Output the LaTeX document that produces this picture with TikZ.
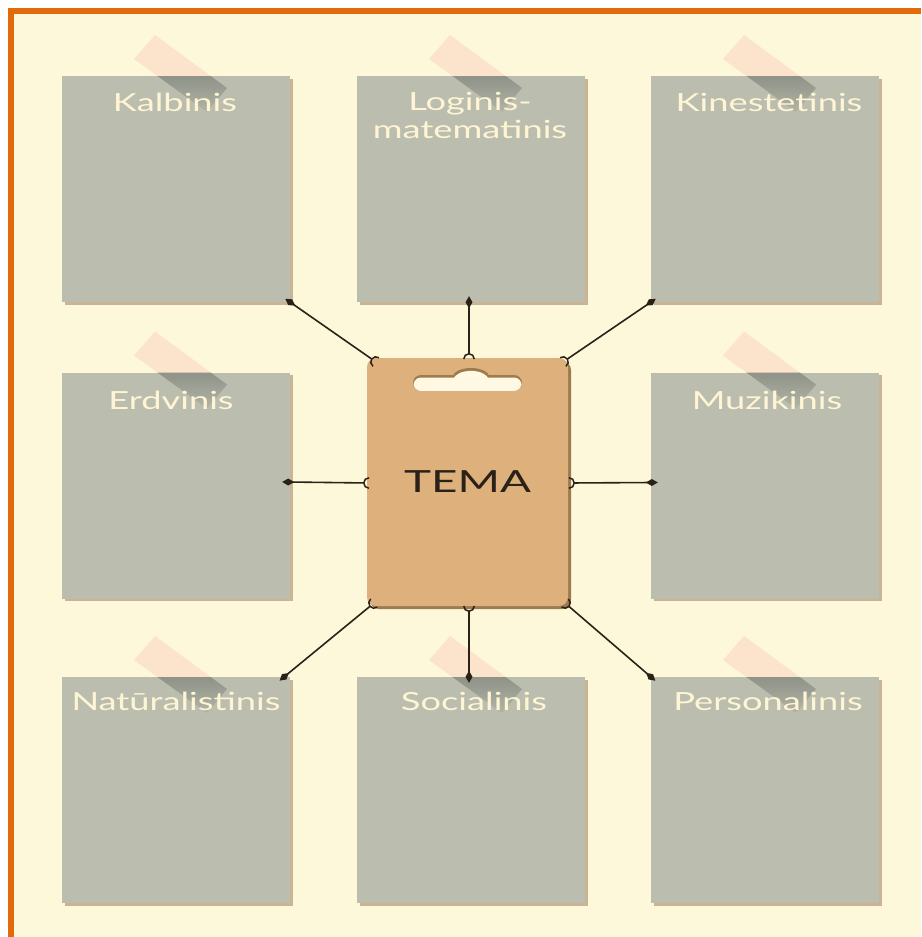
\documentclass[tikz,border=0pt]{standalone}
\usepackage{fontspec}
\usetikzlibrary{arrows.meta,shadows,fadings}
\newfontfamily\labfont[FakeStretch=1.45]{Lato}
\newfontfamily\temafont[FakeStretch=1.5]{Lato}
\definecolor{frameorange}{HTML}{E26A0C}
\definecolor{creambg}{HTML}{FEF8DB}
\definecolor{notefill}{HTML}{BBBEAE}
\definecolor{noteshadow}{HTML}{C9B595}
\definecolor{tapepeach}{HTML}{FCE3CC}
\definecolor{tapedark}{HTML}{8F9388}
\definecolor{labelcol}{HTML}{FFF5D5}
\definecolor{boardtan}{HTML}{DDB07C}
\definecolor{boardshadow}{HTML}{9E7A4E}
\definecolor{linecol}{HTML}{2A2118}
\definecolor{slotcol}{HTML}{FFF8E2}
\tikzfading[name=tapefade, top color=transparent!0, bottom color=transparent!80]
\tikzset{
  note/.style={rectangle, fill=notefill, minimum width=228pt, minimum height=226pt, inner sep=0pt,
    drop shadow={shadow xshift=2.5pt, shadow yshift=-2.5pt, fill=noteshadow, opacity=1}},
  notelabel/.style={text=labelcol, font=\labfont\fontsize{25}{29}\selectfont, inner sep=0pt, align=center},
  board/.style={rectangle, rounded corners=9pt, fill=boardtan, minimum width=201pt, minimum height=248pt,
    inner sep=0pt, text=linecol, font=\temafont\fontsize{30.5}{34}\selectfont,
    drop shadow={shadow xshift=3pt, shadow yshift=-3pt, fill=boardshadow, opacity=1}},
  conn/.style={draw=linecol, line width=1.6pt, shorten <=-6pt,
    {Diamond[length=12pt,width=7pt]}-{Arc Barb[reversed,length=6pt,width=12pt,line width=1.5pt]}},
}
\begin{document}
\begin{tikzpicture}[x=1pt,y=-1pt]
\useasboundingbox (0,0) rectangle (921,937);
\fill[white] (0,0) rectangle (921,937);
\fill[frameorange] (8,8) rectangle (921,937);
\fill[creambg] (14,14) rectangle (921,937);

\foreach \nm/\cx/\cy in {kal/176/189, log/471/189, kin/765/189,
  erd/176/485.5, muz/765/485.5, nat/176/790, soc/471/790, per/765/790}{
  \begin{scope}[shift={(\cx-114,\cy-113)}]
    \fill[tapepeach] (93,-41) -- (165,12) -- (145,36) -- (72,-17) -- cycle;
    \node[note] (\nm) at (114,113) {};
    \fill[tapedark, path fading=tapefade] (95.4,0) -- (148.7,0) -- (165,12) -- (145,36) -- cycle;
  \end{scope}
}
\node[notelabel, anchor=base] (kal-t) at (175,111) {Kalbinis};
\node[notelabel, anchor=base] (kin-t) at (769,111) {Kinestetinis};
\node[notelabel, anchor=base] (erd-t) at (171,409) {Erdvinis};
\node[notelabel, anchor=base] (muz-t) at (767,409) {Muzikinis};
\node[notelabel, anchor=base] (nat-t) at (176,710) {Natūralistinis};
\node[notelabel, anchor=base] (soc-t) at (474,710) {Socialinis};
\node[notelabel, anchor=base] (per-t) at (768,710) {Personalinis};
\node[notelabel, anchor=north, font=\labfont\fontsize{25}{28.5}\selectfont] (log-t) at (470,92) {Loginis-\\matematinis};

% board
\node[board] (tema) at (467.5,482) {TEMA};
\fill[boardshadow, rounded corners=8pt] (413,375) rectangle (522,391);
\fill[boardshadow] (452,377) .. controls (456,365) and (486,365) .. (490,377) -- cycle;
\fill[slotcol, rounded corners=7.5pt] (413.5,377.5) rectangle (521.5,391);
\fill[slotcol] (453,379.5) .. controls (457,368) and (485,368) .. (489,379.5) -- cycle;

% connectors
\coordinate (b-kal) at (376,362);
\coordinate (b-log) at (469,359);
\coordinate (b-kin) at (563,362);
\coordinate (b-erd) at (369,483);
\coordinate (b-muz) at (569,483);
\coordinate (b-nat) at (374,603);
\coordinate (b-soc) at (469,606);
\coordinate (b-per) at (565,603);
\draw[conn] (kal.south east) -- (b-kal);
\draw[conn] ([xshift=-2pt]log.south) -- (b-log);
\draw[conn] (kin.south west) -- (b-kin);
\draw[conn] ([yshift=3.5pt,xshift=-2pt]erd.east) -- (b-erd);
\draw[conn] ([yshift=3pt,xshift=1pt]muz.west) -- (b-muz);
\draw[conn] ([xshift=-6pt]nat.north east) -- (b-nat);
\draw[conn] ([xshift=-2pt]soc.north) -- (b-soc);
\draw[conn] (per.north west) -- (b-per);
\end{tikzpicture}
\end{document}
